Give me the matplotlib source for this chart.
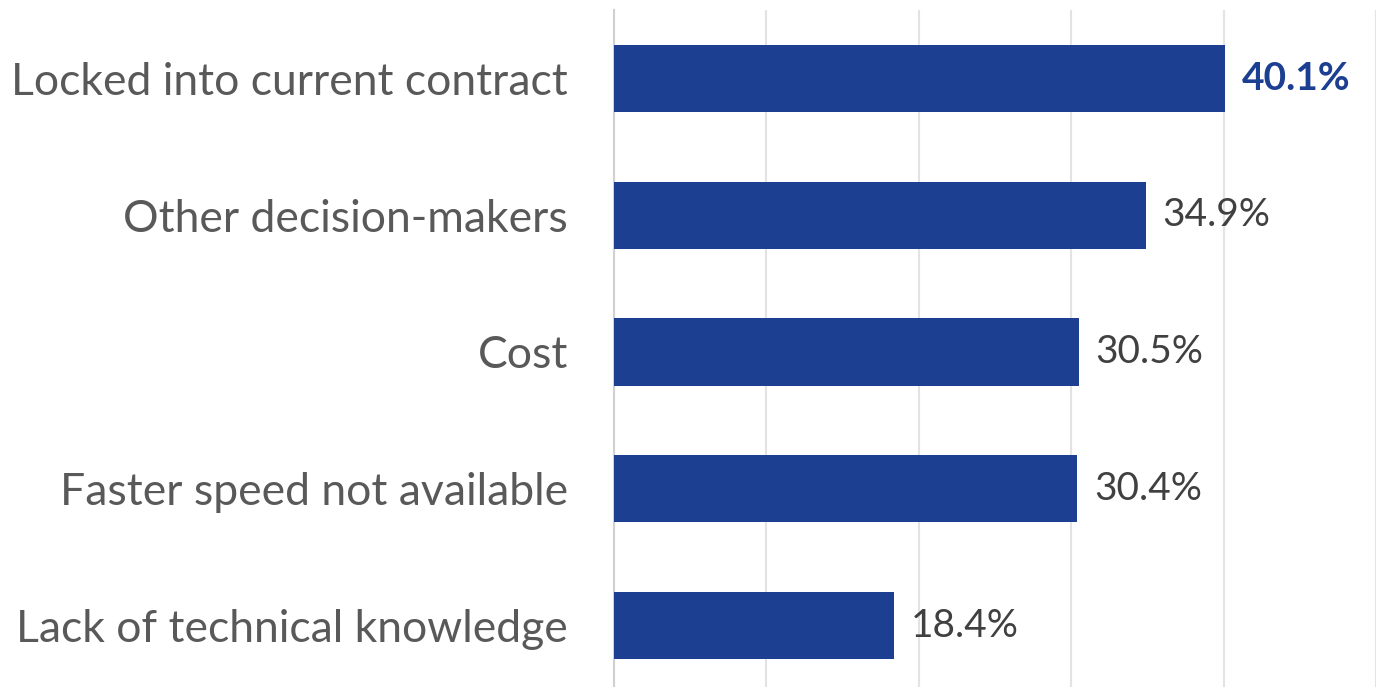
import matplotlib
matplotlib.use("Agg")
import matplotlib.pyplot as plt

CATEGORIES = [
    "Locked into current contract",
    "Other decision-makers",
    "Cost",
    "Faster speed not available",
    "Lack of technical knowledge",
]
VALUES = [40.1, 34.9, 30.5, 30.4, 18.4]

BAR_COLOR = "#1d3f91"

plt.rcParams["font.family"] = ["Lato", "DejaVu Sans"]

fig = plt.figure(figsize=(13.79, 6.87), dpi=100)
ax = fig.add_axes([614 / 1379, -7 / 687, (1376 - 614) / 1379, (687 - 10 + 7) / 687])

y = list(range(len(CATEGORIES)))
ax.barh(y, VALUES, height=0.49, color=BAR_COLOR, zorder=3)
ax.set_ylim(len(CATEGORIES) - 0.5, -0.5)
ax.set_xlim(0, 50)
ax.set_xticks([0, 10, 20, 30, 40, 50])
ax.xaxis.set_ticklabels([])
ax.tick_params(axis="x", length=0)
ax.tick_params(axis="y", length=0, pad=33)
ax.set_yticks(y)
ax.set_yticklabels(CATEGORIES, fontsize=32, color="#595959")
ax.grid(True, axis="x", color="#e3e3e3", linewidth=1.5, zorder=0)
for side in ["top", "right", "bottom"]:
    ax.spines[side].set_visible(False)
ax.spines["left"].set_color("#d0d0d0")
ax.spines["left"].set_linewidth(1.5)

for i, v in enumerate(VALUES):
    first = i == 0
    ax.text(
        v + 1.1,
        i,
        f"{v:.1f}%",
        va="center",
        ha="left",
        fontsize=28,
        fontweight="bold" if first else "normal",
        color=BAR_COLOR if first else "#404040",
        zorder=4,
    )

fig.savefig("out.png", dpi=100)
